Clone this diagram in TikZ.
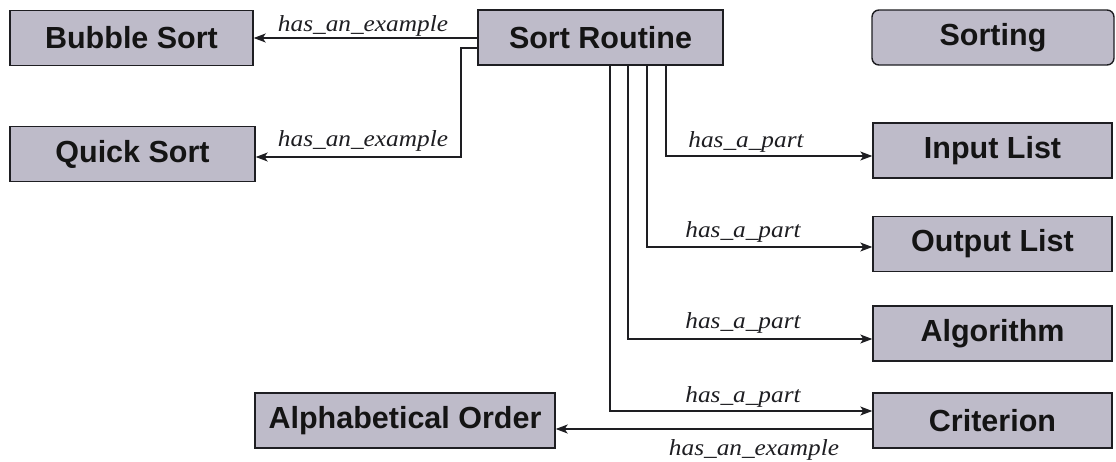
\documentclass[tikz,border=0pt]{standalone}
\usepackage{fontspec}
\setmainfont{Liberation Serif}
\newfontfamily\boxfont{Liberation Sans}[FontFace={b}{n}{Liberation Sans Bold}]
\newfontfamily\relfont{Liberation Serif Italic}[FakeStretch=1.1]
\usetikzlibrary{arrows.meta}
\definecolor{boxfill}{RGB}{190,187,201}
\definecolor{ink}{RGB}{30,30,34}
\tikzset{
  concept/.style={draw=ink, line width=1.4pt, fill=boxfill, minimum height=55pt,
    inner sep=0pt, font=\boxfont\bfseries\fontsize{30.5}{30}\selectfont, text=black!92},
  link/.style={draw=ink, line width=1.2pt,
    -{Stealth[length=12pt,width=9pt,inset=3pt]}},
  rel/.style={font=\relfont\fontsize{23}{23}\selectfont, text=ink, anchor=base, inner sep=0pt}
}
\begin{document}
\begin{tikzpicture}[x=1pt,y=-1pt]
\useasboundingbox (0,0) rectangle (1116,461);
% concepts
\node[concept, minimum width=243pt] (bubble) at (131.5,38) {Bubble Sort};
\node[concept, minimum width=245pt] (quick) at (132.5,154) {Quick Sort};
\node[concept, minimum width=245pt] (sortr) at (600.5,37.5) {Sort Routine};
\node[concept, minimum width=242pt, rounded corners=7pt] (sorting) at (993,37.5) {Sorting};
\node[concept, minimum width=239pt] (input) at (992.5,150.5) {Input List};
\node[concept, minimum width=239pt] (output) at (992.5,244) {Output List};
\node[concept, minimum width=239pt] (algo) at (992.5,333.5) {Algorithm};
\node[concept, minimum width=239pt] (crit) at (992.5,420.5) {Criterion};
\node[concept, minimum width=300pt] (alpha) at (405,420.5) {Alphabetical Order};
% examples of a sort routine
\draw[link] (sortr.west |- 0,38) -- (bubble.east |- 0,38);
\draw[link] (sortr.west |- 0,48) -| (461,157) -- (quick.east |- 0,157);
% parts of a sort routine
\draw[link] (sortr.south -| 666,0) |- (input.west |- 0,156);
\draw[link] (sortr.south -| 647,0) |- (output.west |- 0,247);
\draw[link] (sortr.south -| 628,0) |- (algo.west |- 0,339);
\draw[link] (sortr.south -| 610,0) |- (crit.west |- 0,411);
% example of a criterion
\draw[link] (crit.west |- 0,429) -- (alpha.east |- 0,429);
% relation labels
\node[rel] (l1) at (363,31) {has\_an\_example};
\node[rel] (l2) at (363,146) {has\_an\_example};
\node[rel] (l3) at (746,147) {has\_a\_part};
\node[rel] (l4) at (743,237) {has\_a\_part};
\node[rel] (l5) at (743,328) {has\_a\_part};
\node[rel] (l6) at (743,402) {has\_a\_part};
\node[rel] (l7) at (754,455) {has\_an\_example};
\end{tikzpicture}
\end{document}
